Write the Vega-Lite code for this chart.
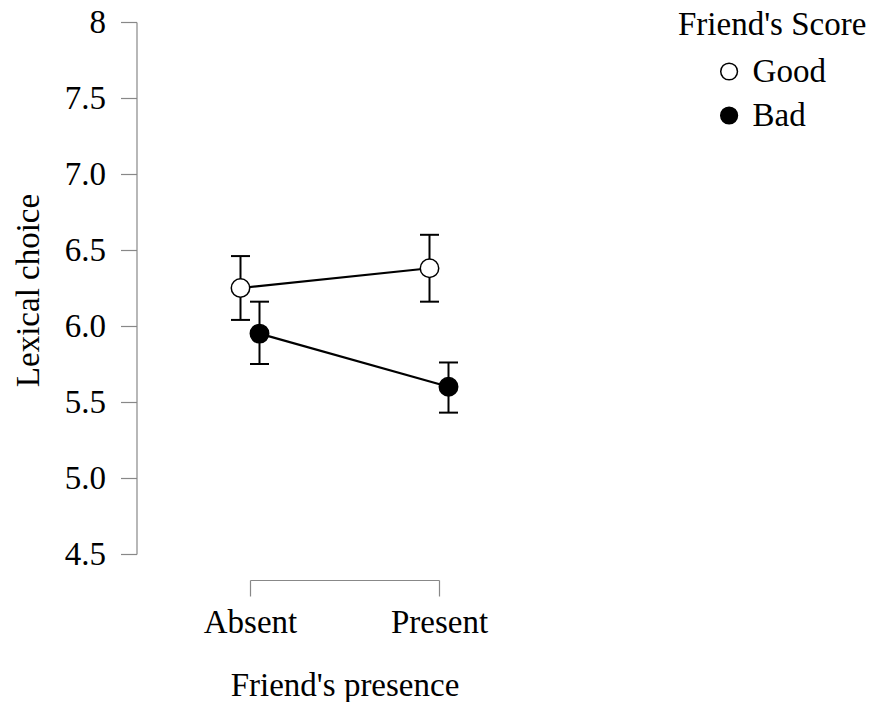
{
  "$schema": "https://vega.github.io/schema/vega-lite/v6.json",
  "autosize": {"type": "none"},
  "padding": {"left": 250, "top": 22, "right": 431, "bottom": 148},
  "width": 189,
  "height": 532,
  "background": "white",
  "config": {
    "view": {"stroke": null},
    "font": "Liberation Serif",
    "axis": {"grid": false, "domainColor": "#888888", "tickColor": "#888888", "domainWidth": 1.2, "tickWidth": 1.2, "labelColor": "black", "titleColor": "black", "labelFont": "Liberation Serif", "titleFont": "Liberation Serif", "labelFontSize": 33, "titleFontSize": 33, "titleFontWeight": "normal"},
    "legend": {"labelFont": "Liberation Serif", "titleFont": "Liberation Serif", "labelFontSize": 33, "titleFontSize": 33, "titleFontWeight": "normal", "labelColor": "black", "titleColor": "black", "labelLimit": 400, "titleLimit": 400}
  },
  "data": {"values": [
    {"Presence": "Absent", "Score": "Good", "mean": 6.25, "lower": 6.04, "upper": 6.46},
    {"Presence": "Present", "Score": "Good", "mean": 6.38, "lower": 6.16, "upper": 6.60},
    {"Presence": "Absent", "Score": "Bad", "mean": 5.95, "lower": 5.75, "upper": 6.16},
    {"Presence": "Present", "Score": "Bad", "mean": 5.60, "lower": 5.43, "upper": 5.76}
  ]},
  "encoding": {
    "x": {"field": "Presence", "type": "nominal", "scale": {"type": "point", "padding": 0, "domain": ["Absent", "Present"]},
      "axis": {"title": "Friend's presence", "labelAngle": 0, "offset": 26, "tickSize": 16, "labelBaseline": "alphabetic", "labelPadding": 36, "titleBaseline": "alphabetic", "titleY": 115, "titlePadding": 0}},
    "xOffset": {"field": "Score", "type": "nominal", "scale": {"type": "point", "padding": 0, "domain": ["Good", "Bad"], "range": [-9.5, 9.5]}}
  },
  "layer": [
    {
      "mark": {"type": "rule", "color": "black", "strokeWidth": 2},
      "encoding": {
        "y": {"field": "lower", "type": "quantitative", "scale": {"domain": [4.5, 8], "nice": false, "zero": false},
          "axis": {"title": "Lexical choice", "values": [4.5, 5, 5.5, 6, 6.5, 7, 7.5, 8], "labelExpr": "datum.value == 8 ? '8' : format(datum.value, '.1f')", "offset": 113.5, "tickSize": 16, "labelPadding": 15, "titleAngle": -90, "titleBaseline": "alphabetic", "titleX": -98, "titleY": 268, "titleAnchor": "middle"}},
        "y2": {"field": "upper"}
      }
    },
    {
      "mark": {"type": "tick", "orient": "horizontal", "color": "black", "size": 19, "thickness": 2, "opacity": 1},
      "encoding": {"y": {"field": "upper", "type": "quantitative", "axis": {"title": "Lexical choice"}}}
    },
    {
      "mark": {"type": "tick", "orient": "horizontal", "color": "black", "size": 19, "thickness": 2, "opacity": 1},
      "encoding": {"y": {"field": "lower", "type": "quantitative", "axis": {"title": "Lexical choice"}}}
    },
    {
      "mark": {"type": "line", "color": "black", "strokeWidth": 2.2},
      "encoding": {
        "y": {"field": "mean", "type": "quantitative", "axis": {"title": "Lexical choice"}},
        "detail": {"field": "Score", "type": "nominal"}
      }
    },
    {
      "mark": {"type": "point", "shape": "circle", "filled": true, "size": 340, "stroke": "black", "strokeWidth": 1.5, "opacity": 1},
      "encoding": {
        "y": {"field": "mean", "type": "quantitative", "axis": {"title": "Lexical choice"}},
        "fill": {"field": "Score", "type": "nominal", "scale": {"domain": ["Good", "Bad"], "range": ["white", "black"]},
          "legend": {"title": "Friend's Score", "orient": "none", "legendX": 428, "legendY": -13, "padding": 0, "symbolType": "circle", "symbolSize": 280, "symbolStrokeColor": "black", "symbolStrokeWidth": 1.5, "symbolOffset": 34.6, "labelOffset": 7, "rowPadding": 10, "titlePadding": 13}}
      }
    }
  ],
  "resolve": {"scale": {"y": "shared"}},
  "description": "Lexical choice by friend's presence and score"
}
